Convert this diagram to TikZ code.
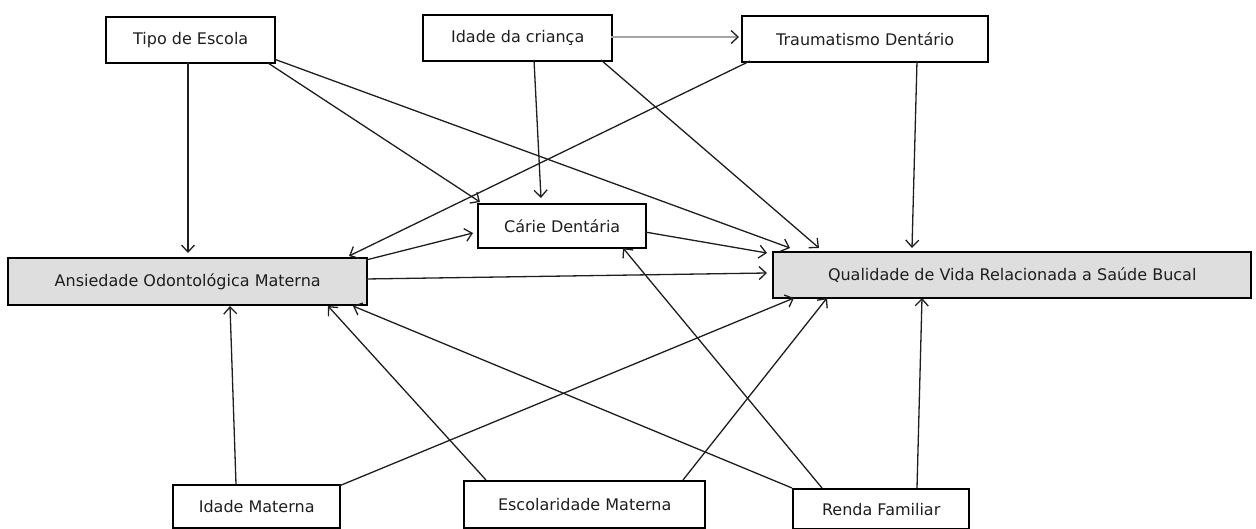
\documentclass[tikz,border=0pt]{standalone}
\usepackage{fontspec}
\setmainfont{DejaVu Sans}
\usetikzlibrary{arrows.meta,calc}
\definecolor{boxgray}{HTML}{DEDEDE}
\definecolor{ink}{HTML}{1E1E1E}
\tikzset{
  box/.style={draw=black, line width=2.4pt, rectangle, inner sep=0pt, text=ink,
    font=\fontsize{16}{19}\selectfont, anchor=north west},
  graybox/.style={box, fill=boxgray},
  link/.style={draw=ink, line width=1.3pt, -{Straight Barb[length=7pt,width=13pt,line width=1.3pt]}},
  lightlink/.style={draw=black!35, line width=1.3pt, -{Straight Barb[length=7pt,width=13pt,line width=1.3pt,color=ink]}}
}
\begin{document}
\begin{tikzpicture}[x=1pt,y=-1pt]
\useasboundingbox (0,0) rectangle (1256,529);
% nodes (north west corners in px)
\node[box, minimum width=169pt, minimum height=46pt] (tipo) at (105,16) {Tipo de Escola};
\node[box, minimum width=189pt, minimum height=46pt] (idade) at (422,14) {Idade da criança};
\node[box, minimum width=246pt, minimum height=46pt] (trauma) at (741,15) {Traumatismo Dentário};
\node[graybox, minimum width=359pt, minimum height=47pt] (ans) at (7,257) {Ansiedade Odontológica Materna};
\node[box, minimum width=168pt, minimum height=44pt] (carie) at (477,203) {Cárie Dentária};
\node[graybox, minimum width=478pt, minimum height=46pt] (qual) at (772,251) {Qualidade de Vida Relacionada a Saúde Bucal};
\node[box, minimum width=167pt, minimum height=43pt] (imat) at (172,484) {Idade Materna};
\node[box, minimum width=241pt, minimum height=47pt] (esc) at (463,480) {Escolaridade Materna};
\node[box, minimum width=176pt, minimum height=40pt] (renda) at (792,488) {Renda Familiar};
% connectors
\draw[link] ($(tipo.north west)+(83,46)$) -- ($(ans.north west)+(181,-4)$);
\draw[link] ($(tipo.north west)+(163,47)$) -- ($(carie.north west)+(3,-1)$);
\draw[link] ($(tipo.north west)+(169,43)$) -- ($(qual.north west)+(18,-3)$);
\draw[link] ($(idade.north west)+(112,46)$) -- ($(carie.north west)+(64,-5)$);
\draw[lightlink] ($(idade.north west)+(189,23)$) -- ($(trauma.north west)+(-2,22)$);
\draw[link] ($(idade.north west)+(179,46)$) -- ($(qual.north west)+(47,-3)$);
\draw[link] ($(trauma.north west)+(9,46)$) -- ($(ans.north west)+(342,-1)$);
\draw[link] ($(trauma.north west)+(176,46)$) -- ($(qual.north west)+(140,-3)$);
\draw[link] ($(ans.north west)+(359,3)$) -- ($(carie.north west)+(-4,30)$);
\draw[link] ($(ans.north west)+(359,22)$) -- ($(qual.north west)+(-5,22)$);
\draw[link] ($(carie.north west)+(168,29)$) -- ($(qual.north west)+(-5,2)$);
\draw[link] ($(imat.north west)+(64,0)$) -- ($(ans.north west)+(223,49)$);
\draw[link] ($(imat.north west)+(167,2)$) -- ($(qual.north west)+(22,47)$);
\draw[link] ($(esc.north west)+(23,0)$) -- ($(ans.north west)+(321,49)$);
\draw[link] ($(esc.north west)+(220,0)$) -- ($(qual.north west)+(55,47)$);
\draw[link] ($(renda.north west)+(0,0)$) -- ($(ans.north west)+(346,49)$);
\draw[link] ($(renda.north west)+(30,0)$) -- ($(carie.north west)+(146,45)$);
\draw[link] ($(renda.north west)+(125,0)$) -- ($(qual.north west)+(150,47)$);
\end{tikzpicture}
\end{document}
